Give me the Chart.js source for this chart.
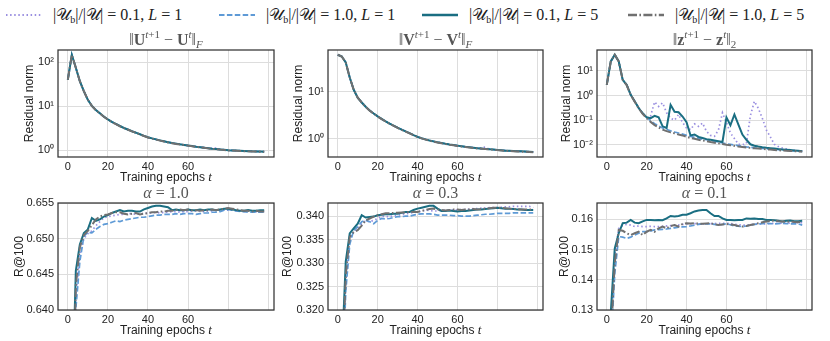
<!DOCTYPE html>
<html>
<head>
<meta charset="utf-8">
<script src="https://cdn.jsdelivr.net/npm/chart.js@4.4.1/dist/chart.umd.min.js"></script>
<style>
  html, body { margin: 0; padding: 0; background: #fff; }
  #fig { position: relative; width: 830px; height: 341px; overflow: hidden; }
  .panel { position: absolute; }
  #legend { position: absolute; left: 0; top: 1px; width: 830px; height: 28px;
            font-family: 'Liberation Serif', 'DejaVu Serif', serif; font-size: 16px; color: #222; }
  .item { position: absolute; top: 0; height: 28px; display: flex; align-items: center; white-space: nowrap; }
  .item svg { margin-right: 11px; }
  .item sub { font-size: 10px; vertical-align: -3px; line-height: 0; }
</style>
</head>
<body>
<div id="fig">
  <div id="legend"></div>
</div>
<script>
// epochs on the x axis
const epochs = [0,2,4,6,8,10,12,14,16,18,20,22,24,26,28,30,32,34,36,38,40,42,44,46,48,
                50,52,54,56,58,60,62,64,66,68,70,72,74,76,78,80,82,84,86,88,90,92,94,96,98];
const xTicks = [0, 20, 40, 60, 80, 100];
const xTickLabels = ['0', '20', '40', '60', '', ''];

// series: |U_b|/|U| ratio and L
const ratios = ['0.1', '1.0', '0.1', '1.0'];
const depths = ['1', '1', '5', '5'];
const colors = ['#9a8fe0', '#5e9ad6', '#1a6e82', '#707070'];
const dashes = [[1.5, 2.6], [5.5, 2.4], [], [9, 2.4, 1.6, 2.4]];
const widths = [1.7, 1.7, 2, 2];

// ||U^{t+1} - U^t||_F
const uDot = [40,148,75,37,22,14,10.2,8.2,6.9,5.8, 5.0,4.4,3.95,3.55,3.2,2.95,2.7,2.5,2.3,2.12,
  1.97,1.86,1.76,1.67,1.59,1.52,1.46,1.41,1.36,1.32, 1.28,1.24,1.2,1.17,1.14,1.11,1.1,1.12,1.05,1.02,
  1.0,0.99,0.98,0.97,0.96,0.95,0.94,0.935,0.93,0.925];
const uDash = [40,147,74,37,22,14,10.1,8.2,6.9,5.8, 5.0,4.4,3.94,3.54,3.2,2.94,2.7,2.49,2.3,2.12,
  1.96,1.85,1.76,1.67,1.59,1.52,1.46,1.41,1.36,1.32, 1.27,1.23,1.2,1.17,1.14,1.11,1.08,1.06,1.04,1.02,
  1.0,0.99,0.98,0.97,0.96,0.95,0.94,0.935,0.93,0.925];
const uSolid = [40,148,75,37,22,14,10.2,8.2,6.9,5.8, 5.0,4.4,3.95,3.55,3.2,2.95,2.7,2.5,2.3,2.12,
  1.97,1.86,1.76,1.67,1.59,1.52,1.46,1.41,1.36,1.32, 1.28,1.24,1.2,1.17,1.14,1.11,1.08,1.06,1.04,1.02,
  1.0,0.99,0.98,0.97,0.96,0.95,0.94,0.935,0.93,0.925];
const uDashDot = [40,148,75,37,22,14,10.2,8.1,6.8,5.75, 4.95,4.35,3.9,3.5,3.17,2.92,2.68,2.48,2.28,2.1,
  1.95,1.84,1.74,1.65,1.57,1.5,1.44,1.39,1.35,1.31, 1.27,1.23,1.19,1.16,1.13,1.1,1.07,1.05,1.03,1.01,
  0.99,0.98,0.97,0.96,0.95,0.94,0.935,0.93,0.925,0.92];

// ||V^{t+1} - V^t||_F
const vDot = [61,56,42,20,11,7.5,5.9,4.8,4.0,3.45, 3.0,2.65,2.35,2.1,1.9,1.72,1.57,1.44,1.32,1.2,
  1.1,1.03,0.97,0.92,0.88,0.84,0.81,0.78,0.755,0.735, 0.715,0.695,0.675,0.66,0.645,0.63,0.64,0.67,0.6,0.59,
  0.58,0.57,0.56,0.555,0.55,0.545,0.54,0.535,0.53,0.525];
const vDash = [61,56,42,20,11,7.4,5.9,4.8,4.0,3.45, 3.0,2.64,2.35,2.1,1.9,1.71,1.57,1.44,1.31,1.2,
  1.1,1.03,0.97,0.92,0.88,0.84,0.81,0.78,0.755,0.735, 0.714,0.694,0.675,0.66,0.645,0.63,0.62,0.61,0.6,0.59,
  0.58,0.57,0.56,0.555,0.55,0.545,0.54,0.535,0.53,0.525];
const vSolid = [61,56,42,20,11,7.5,5.9,4.8,4.0,3.45, 3.0,2.65,2.35,2.1,1.9,1.72,1.57,1.44,1.32,1.2,
  1.1,1.03,0.97,0.92,0.88,0.84,0.81,0.78,0.755,0.735, 0.715,0.695,0.675,0.66,0.645,0.63,0.62,0.61,0.6,0.59,
  0.58,0.57,0.56,0.555,0.55,0.545,0.54,0.535,0.53,0.525];
const vDashDot = [61,56,42,20,11,7.5,5.9,4.75,3.96,3.42, 2.97,2.62,2.33,2.08,1.88,1.7,1.55,1.42,1.3,1.19,
  1.09,1.02,0.96,0.91,0.87,0.83,0.8,0.77,0.745,0.725, 0.705,0.685,0.668,0.652,0.638,0.625,0.614,0.604,0.594,0.584,
  0.574,0.565,0.556,0.55,0.544,0.538,0.533,0.528,0.524,0.52];

// ||z^{t+1} - z^t||_2
const zDot = [2.7,24,45,24,4.3,2.7,1.07,0.58,0.31,0.19, 0.13,0.15,0.55,0.36,0.5,0.2,0.12,0.1,0.17,0.08,
  0.048,0.041,0.07,0.056,0.076,0.035,0.024,0.022,0.04,0.2, 0.08,0.03,0.018,0.0105,0.0102,0.011,0.15,0.58,0.3,0.12,
  0.04,0.021,0.0105,0.0085,0.0074,0.0068,0.0063,0.006,0.0057,0.0055];
const zDash = [2.7,24,45,24,4.3,2.7,1.07,0.58,0.31,0.19, 0.13,0.095,0.072,0.058,0.048,0.042,0.037,0.033,0.03,0.027,
  0.024,0.022,0.02,0.0185,0.017,0.016,0.015,0.014,0.013,0.0118, 0.011,0.0104,0.0098,0.0093,0.0088,0.0083,0.0079,0.0076,0.0073,0.0071,
  0.0069,0.0067,0.0065,0.0063,0.0061,0.006,0.0058,0.0057,0.0055,0.0054];
const zSolid = [2.7,24,45,24,4.3,2.7,1.07,0.58,0.31,0.19, 0.13,0.12,0.15,0.13,0.056,0.048,0.42,0.22,0.21,0.14,
  0.083,0.024,0.026,0.021,0.019,0.017,0.016,0.015,0.014,0.013, 0.13,0.062,0.17,0.066,0.026,0.016,0.0105,0.0092,0.0085,0.008,
  0.0076,0.0073,0.007,0.0067,0.0065,0.0063,0.0061,0.0059,0.0057,0.0055];
const zDashDot = [2.7,24,45,24,4.3,2.6,1.05,0.56,0.3,0.18, 0.12,0.085,0.063,0.05,0.041,0.036,0.032,0.029,0.026,0.024,
  0.021,0.019,0.0175,0.016,0.015,0.014,0.013,0.0122,0.0115,0.0108, 0.0101,0.0096,0.0091,0.0086,0.0082,0.0078,0.0075,0.0072,0.007,0.0068,
  0.0066,0.0064,0.0062,0.006,0.0059,0.0057,0.0056,0.0055,0.0054,0.0053];

// R@100, alpha = 1.0
const a10Dot = [0.590,0.618,0.6420,0.6478,0.6500,0.6507,0.6511,0.6518,0.6524,0.6529,
  0.6531,0.6532,0.6533,0.6534,0.6534,0.6535,0.6535,0.6534,0.6535,0.6535,
  0.6536,0.6536,0.6537,0.6536,0.6537,0.6537,0.6538,0.6538,0.6537,0.6538,
  0.6538,0.6539,0.6539,0.6539,0.6538,0.6539,0.6539,0.6540,0.6540,0.6540,
  0.6540,0.6540,0.6539,0.6539,0.6538,0.6539,0.6539,0.6538,0.6538,0.6538];
const a10Dash = [0.585,0.615,0.6402,0.6468,0.6503,0.6509,0.6508,0.6513,0.6517,0.6520,
  0.6521,0.6523,0.6525,0.6524,0.6526,0.6527,0.6528,0.6529,0.6530,0.6530,
  0.6531,0.6532,0.6533,0.6533,0.6534,0.6534,0.6534,0.6535,0.6534,0.6535,
  0.6535,0.6535,0.6534,0.6535,0.6536,0.6536,0.6537,0.6537,0.6538,0.6540,
  0.6541,0.6540,0.6539,0.6538,0.6538,0.6537,0.6537,0.6537,0.6537,0.6537];
const a10Solid = [0.600,0.625,0.6455,0.6492,0.6508,0.6513,0.6529,0.6525,0.6527,0.6531,
  0.6533,0.6536,0.6538,0.6540,0.6538,0.6539,0.6539,0.6538,0.6538,0.6541,
  0.6543,0.6545,0.6546,0.6546,0.6545,0.6544,0.6540,0.6541,0.6540,0.6540,
  0.6541,0.6540,0.6540,0.6541,0.6540,0.6541,0.6541,0.6540,0.6541,0.6542,
  0.6542,0.6541,0.6540,0.6539,0.6539,0.6540,0.6539,0.6539,0.6540,0.6540];
const a10DashDot = [0.590,0.620,0.6435,0.6488,0.6505,0.6511,0.6519,0.6527,0.6531,0.6533,
  0.6534,0.6536,0.6537,0.6537,0.6535,0.6534,0.6535,0.6536,0.6534,0.6535,
  0.6536,0.6537,0.6537,0.6538,0.6538,0.6539,0.6539,0.6540,0.6541,0.6540,
  0.6541,0.6540,0.6540,0.6539,0.6540,0.6540,0.6541,0.6540,0.6541,0.6542,
  0.6543,0.6542,0.6541,0.6540,0.6539,0.6539,0.6538,0.6539,0.6538,0.6538];

// R@100, alpha = 0.3
const a03Dot = [0.285,0.303,0.3260,0.3350,0.3368,0.3372,0.3384,0.3390,0.3388,0.3391,
  0.3395,0.3400,0.3399,0.3399,0.3401,0.3402,0.3404,0.3405,0.3406,0.3408,
  0.3409,0.3411,0.3413,0.3412,0.3411,0.3411,0.3412,0.3413,0.3413,0.3413,
  0.3413,0.3414,0.3414,0.3415,0.3416,0.3416,0.3417,0.3417,0.3418,0.3418,
  0.3418,0.3419,0.3420,0.3420,0.3421,0.3421,0.3421,0.3421,0.3421,0.3418];
const a03Dash = [0.280,0.300,0.3240,0.3340,0.3370,0.3377,0.3388,0.3391,0.3388,0.3384,
  0.3391,0.3395,0.3394,0.3395,0.3397,0.3399,0.3399,0.3400,0.3400,0.3402,
  0.3404,0.3405,0.3405,0.3405,0.3404,0.3402,0.3402,0.3402,0.3402,0.3401,
  0.3401,0.3400,0.3400,0.3400,0.3401,0.3402,0.3403,0.3404,0.3404,0.3405,
  0.3406,0.3406,0.3406,0.3406,0.3407,0.3407,0.3407,0.3407,0.3407,0.3407];
const a03Solid = [0.290,0.310,0.3303,0.3363,0.3374,0.3384,0.3402,0.3397,0.3398,0.3399,
  0.3402,0.3403,0.3404,0.3404,0.3405,0.3405,0.3407,0.3409,0.3409,0.3413,
  0.3416,0.3418,0.3420,0.3422,0.3422,0.3416,0.3411,0.3411,0.3412,0.3411,
  0.3410,0.3411,0.3411,0.3412,0.3413,0.3414,0.3414,0.3415,0.3416,0.3417,
  0.3418,0.3417,0.3416,0.3416,0.3415,0.3414,0.3414,0.3413,0.3413,0.3413];
const a03DashDot = [0.285,0.305,0.3275,0.3356,0.3366,0.3370,0.3380,0.3391,0.3395,0.3399,
  0.3402,0.3404,0.3406,0.3406,0.3407,0.3407,0.3408,0.3408,0.3409,0.3409,
  0.3409,0.3411,0.3413,0.3415,0.3416,0.3414,0.3413,0.3412,0.3413,0.3414,
  0.3414,0.3413,0.3414,0.3414,0.3415,0.3414,0.3415,0.3416,0.3417,0.3418,
  0.3418,0.3418,0.3417,0.3416,0.3415,0.3415,0.3414,0.3414,0.3414,0.3414];

// R@100, alpha = 0.1
const a01Dot = [0.100,0.120,0.1480,0.1570,0.1580,0.1583,0.1581,0.1576,0.1578,0.1576,
  0.1576,0.1577,0.1576,0.1576,0.1577,0.1578,0.1579,0.1580,0.1581,0.1583,
  0.1585,0.1585,0.1586,0.1585,0.1585,0.1585,0.1586,0.1586,0.1587,0.1587,
  0.1587,0.1586,0.1584,0.1582,0.1581,0.1581,0.1582,0.1584,0.1585,0.1585,
  0.1585,0.1586,0.1587,0.1587,0.1587,0.1587,0.1588,0.1588,0.1589,0.1589];
const a01Dash = [0.100,0.118,0.1420,0.1543,0.1541,0.1537,0.1541,0.1548,0.1554,0.1559,
  0.1559,0.1562,0.1565,0.1566,0.1567,0.1568,0.1570,0.1572,0.1574,0.1575,
  0.1576,0.1578,0.1581,0.1583,0.1585,0.1585,0.1585,0.1583,0.1581,0.1583,
  0.1585,0.1582,0.1578,0.1577,0.1576,0.1578,0.1581,0.1583,0.1585,0.1586,
  0.1587,0.1586,0.1585,0.1586,0.1587,0.1586,0.1585,0.1585,0.1585,0.1581];
const a01Solid = [0.100,0.129,0.1504,0.1554,0.1587,0.1589,0.1598,0.1589,0.1587,0.1593,
  0.1598,0.1598,0.1597,0.1598,0.1597,0.1603,0.1611,0.1609,0.1611,0.1615,
  0.1615,0.1620,0.1626,0.1629,0.1631,0.1631,0.1620,0.1611,0.1611,0.1603,
  0.1598,0.1598,0.1597,0.1598,0.1598,0.1603,0.1602,0.1603,0.1601,0.1601,
  0.1598,0.1598,0.1597,0.1595,0.1593,0.1595,0.1596,0.1594,0.1594,0.1595];
const a01DashDot = [0.100,0.120,0.1455,0.1565,0.1562,0.1554,0.1548,0.1554,0.1559,0.1548,
  0.1559,0.1565,0.1559,0.1570,0.1576,0.1570,0.1578,0.1581,0.1576,0.1585,
  0.1587,0.1586,0.1587,0.1586,0.1585,0.1586,0.1587,0.1584,0.1581,0.1583,
  0.1585,0.1583,0.1581,0.1578,0.1576,0.1578,0.1581,0.1584,0.1587,0.1590,
  0.1593,0.1595,0.1596,0.1594,0.1593,0.1592,0.1593,0.1591,0.1590,0.1593];

// y ticks
const uTicks = [1, 10, 100], uTickLabels = ['10⁰', '10¹', '10²'];
const vTicks = [1, 10], vTickLabels = ['10⁰', '10¹'];
const zTicks = [0.01, 0.1, 1, 10], zTickLabels = ['10⁻²', '10⁻¹', '10⁰', '10¹'];
const a10Ticks = [0.640, 0.645, 0.650, 0.655], a10TickLabels = ['0.640', '0.645', '0.650', '0.655'];
const a03Ticks = [0.320, 0.325, 0.330, 0.335, 0.340], a03TickLabels = ['0.320', '0.325', '0.330', '0.335', '0.340'];
const a01Ticks = [0.13, 0.14, 0.15, 0.16], a01TickLabels = ['0.13', '0.14', '0.15', '0.16'];
const alphas = ['1.0', '0.3', '0.1'];

const MF = "'Liberation Serif', 'DejaVu Serif', serif";
const SF = "'Liberation Sans', Arial, sans-serif";
const m = t => ({t, font: `16px ${MF}`});
const b = t => ({t, font: `bold 16px ${MF}`});
const it = t => ({t, font: `italic 16px ${MF}`});
const sup = (t, i) => ({t, font: `${i ? 'italic ' : ''}11px ${MF}`, dy: -7});
const sub = (t, i) => ({t, font: `${i ? 'italic ' : ''}11px ${MF}`, dy: 3});
const normTitle = (s, bottom) => [m('‖'), b(s), sup('t', 1), sup('+1'), m(' − '), b(s), sup('t', 1), m('‖'), sub(bottom, bottom === 'F')];

const panels = [
  {rect: [58, 50, 216, 107], type: 'logarithmic', min: 0.72, max: 190, ticks: uTicks, labels: uTickLabels,
   series: [uDot, uDash, uSolid, uDashDot], title: normTitle('U', 'F'), ylabel: 'Residual norm', yOff: 28},
  {rect: [328, 50, 215, 107], type: 'logarithmic', min: 0.41, max: 77, ticks: vTicks, labels: vTickLabels,
   series: [vDot, vDash, vSolid, vDashDot], title: normTitle('V', 'F'), ylabel: 'Residual norm', yOff: 29},
  {rect: [597, 50, 215, 107], type: 'logarithmic', min: 0.0032, max: 70, ticks: zTicks, labels: zTickLabels,
   series: [zDot, zDash, zSolid, zDashDot], title: normTitle('z', '2'), ylabel: 'Residual norm', yOff: 30},
  {rect: [58, 203, 216, 107], type: 'linear', min: 0.640, max: 0.655, ticks: a10Ticks, labels: a10TickLabels,
   series: [a10Dot, a10Dash, a10Solid, a10DashDot], title: [it('α'), m(' = ' + alphas[0])], ylabel: 'R@100', yOff: 38},
  {rect: [328, 203, 215, 107], type: 'linear', min: 0.320, max: 0.3428, ticks: a03Ticks, labels: a03TickLabels,
   series: [a03Dot, a03Dash, a03Solid, a03DashDot], title: [it('α'), m(' = ' + alphas[1])], ylabel: 'R@100', yOff: 40},
  {rect: [597, 203, 215, 107], type: 'linear', min: 0.13, max: 0.1654, ticks: a01Ticks, labels: a01TickLabels,
   series: [a01Dot, a01Dash, a01Solid, a01DashDot], title: [it('α'), m(' = ' + alphas[2])], ylabel: 'R@100', yOff: 32}
];

function drawRich(ctx, segs, cx, y) {
  let w = 0;
  segs.forEach(s => { ctx.font = s.font; w += ctx.measureText(s.t).width; });
  let x = cx - w / 2;
  ctx.textAlign = 'left';
  ctx.textBaseline = 'alphabetic';
  segs.forEach(s => {
    ctx.font = s.font;
    ctx.fillText(s.t, x, y + (s.dy || 0));
    x += ctx.measureText(s.t).width;
  });
}

const decor = {
  id: 'decor',
  afterDraw(chart, args, opts) {
    const ctx = chart.ctx, a = chart.chartArea, p = opts.panel;
    ctx.save();
    ctx.strokeStyle = '#333';
    ctx.lineWidth = 1.25;
    ctx.strokeRect(a.left, a.top, a.right - a.left, a.bottom - a.top);
    ctx.fillStyle = '#555';
    drawRich(ctx, p.title, (a.left + a.right) / 2, a.top - 5);
    ctx.fillStyle = '#222';
    drawRich(ctx, [{t: 'Training epochs ', font: `12px ${SF}`}, {t: 't', font: `italic 13px ${MF}`}],
      (a.left + a.right) / 2, a.bottom + 24);
    ctx.translate(a.left - p.yOff, (a.top + a.bottom) / 2);
    ctx.rotate(-Math.PI / 2);
    ctx.font = `12px ${SF}`;
    ctx.textAlign = 'center';
    ctx.textBaseline = 'middle';
    ctx.fillText(p.ylabel, 0, 0);
    ctx.restore();
  }
};

const fig = document.getElementById('fig');
const padL = 58, padT = 24, padR = 10, padB = 34;

panels.forEach(p => {
  const [L, T, W, H] = p.rect;
  const div = document.createElement('div');
  div.className = 'panel';
  div.style.left = (L - padL) + 'px';
  div.style.top = (T - padT) + 'px';
  const canvas = document.createElement('canvas');
  canvas.width = W + padL + padR;
  canvas.height = H + padT + padB;
  div.appendChild(canvas);
  fig.appendChild(div);

  new Chart(canvas, {
    type: 'line',
    data: {
      datasets: p.series.map((vals, i) => ({
        data: epochs.map((e, j) => ({x: e, y: vals[j]})),
        borderColor: colors[i],
        borderWidth: widths[i],
        borderDash: dashes[i],
        pointRadius: 0,
        tension: 0,
        fill: false,
        order: 4 - i
      }))
    },
    options: {
      responsive: false,
      animation: false,
      events: [],
      layout: {padding: {left: 0, top: padT, right: padR, bottom: 0}, autoPadding: false},
      plugins: {legend: {display: false}, tooltip: {enabled: false}, decor: {panel: p}},
      scales: {
        x: {
          type: 'linear', min: -4.9, max: 102.9,
          afterBuildTicks: s => { s.ticks = xTicks.map(v => ({value: v})); },
          afterFit: s => { s.height = padB; },
          ticks: {callback: (v, i) => xTickLabels[i], font: {family: SF, size: 11}, color: '#222',
                  padding: 3, maxRotation: 0, autoSkip: false},
          grid: {color: '#dddddd', lineWidth: 1, drawTicks: false},
          border: {display: false}
        },
        y: {
          type: p.type, min: p.min, max: p.max,
          afterBuildTicks: s => { s.ticks = p.ticks.map(v => ({value: v})); },
          afterFit: s => { s.width = padL; },
          ticks: {callback: (v, i) => p.labels[i], font: {family: SF, size: 11}, color: '#222',
                  padding: 4, autoSkip: false},
          grid: {color: '#dddddd', lineWidth: 1, drawTicks: false},
          border: {display: false}
        }
      }
    },
    plugins: [decor]
  });
});

// shared legend
const legendX = [6, 219, 422, 628];
const legend = document.getElementById('legend');
ratios.forEach((r, i) => {
  const item = document.createElement('div');
  item.className = 'item';
  item.style.left = legendX[i] + 'px';
  const dash = dashes[i].length ? `stroke-dasharray="${dashes[i].join(' ')}"` : '';
  item.innerHTML = `<svg width="36" height="10"><line x1="0" y1="5" x2="36" y2="5" stroke="${colors[i]}" ` +
    `stroke-width="${widths[i] + 0.3}" ${dash}/></svg>` +
    `<span>|𝒰<sub>b</sub>|/|𝒰| = ${r}, <i>L</i> = ${depths[i]}</span>`;
  legend.appendChild(item);
});
</script>
</body>
</html>
